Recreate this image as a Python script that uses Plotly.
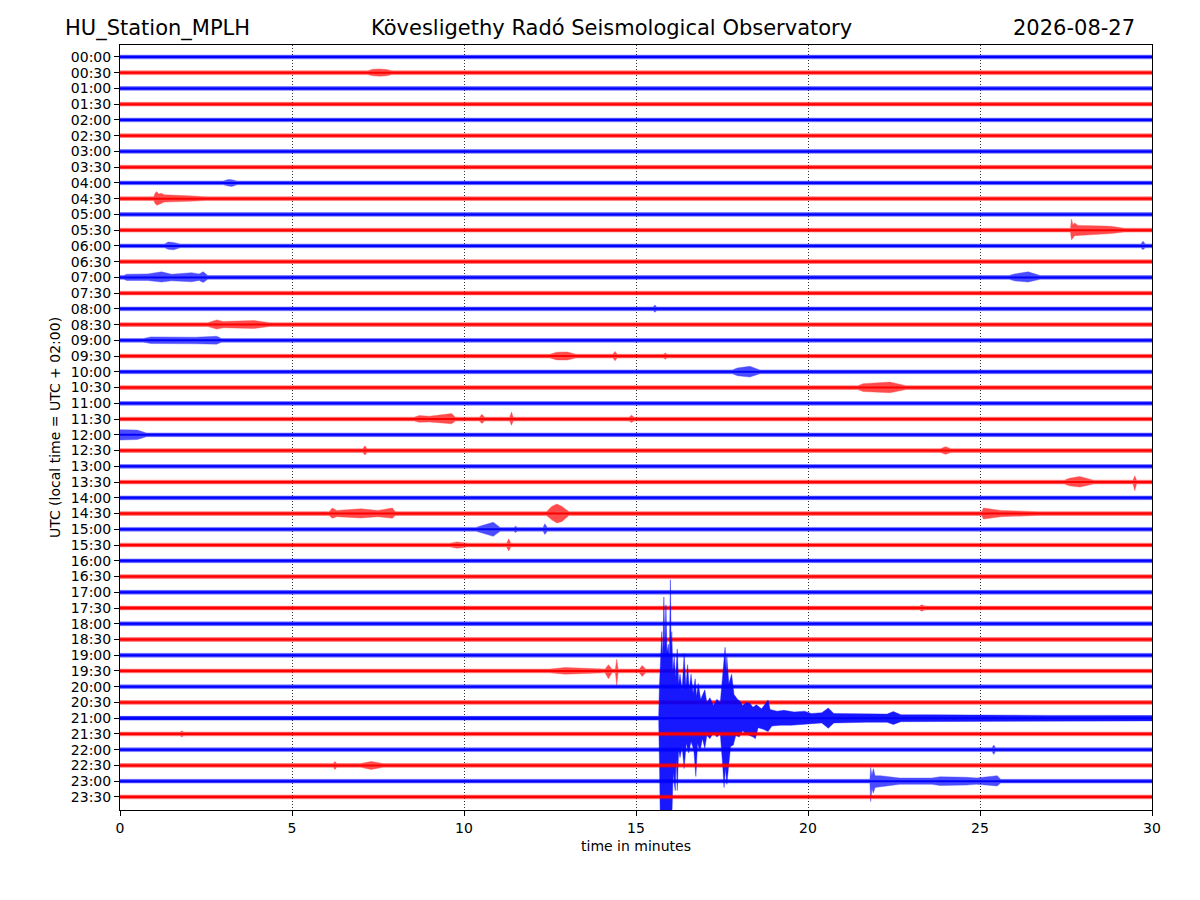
import plotly.graph_objects as go

# Helicorder of one day, 48 half-hour lines of 30 minutes each.
# Each line is drawn as its amplitude envelope (up, down) in units of line spacing,
# read off the reference picture at a few keypoints.

hour_labels = [
    "00:00", "00:30", "01:00", "01:30", "02:00", "02:30", "03:00", "03:30",
    "04:00", "04:30", "05:00", "05:30", "06:00", "06:30", "07:00", "07:30",
    "08:00", "08:30", "09:00", "09:30", "10:00", "10:30", "11:00", "11:30",
    "12:00", "12:30", "13:00", "13:30", "14:00", "14:30", "15:00", "15:30",
    "16:00", "16:30", "17:00", "17:30", "18:00", "18:30", "19:00", "19:30",
    "20:00", "20:30", "21:00", "21:30", "22:00", "22:30", "23:00", "23:30",
]
minute_ticks = [0, 5, 10, 15, 20, 25, 30]
noise = 0.12  # half width of the quiet background trace

# (minute, up, down) envelope keypoints for lines with visible events
r0030 = [(7.2, .12, .12), (7.35, .22, .2), (7.55, .24, .22), (7.75, .2, .2), (7.9, .12, .12)]
r0400 = [(3.0, .12, .12), (3.15, .22, .2), (3.25, .2, .22), (3.4, .12, .12)]
r0430 = [(0.98, .12, .12), (1.02, .35, .3), (1.07, .45, .42), (1.12, .3, .38), (1.2, .35, .3),
         (1.28, .25, .22), (1.6, .2, .2), (2.0, .18, .17), (2.5, .12, .12)]
r0530 = [(27.63, .12, .12), (27.66, .71, .62), (27.7, .35, .5), (27.75, .45, .35), (27.85, .3, .3),
         (28.3, .28, .28), (28.8, .25, .22), (29.2, .12, .12)]
r0600 = [(1.3, .12, .12), (1.4, .25, .22), (1.55, .22, .25), (1.75, .12, .12),
         (29.68, .12, .12), (29.74, .3, .25), (29.8, .12, .12)]
r0700 = [(0.1, .12, .12), (0.2, .2, .2), (0.8, .22, .2), (1.21, .35, .3), (1.5, .2, .22),
         (2.08, .3, .28), (2.3, .22, .2), (2.42, .36, .32), (2.55, .12, .12),
         (25.85, .12, .12), (26.0, .22, .22), (26.4, .35, .3), (26.6, .22, .2), (26.75, .12, .12)]
r0800 = [(15.5, .12, .12), (15.55, .25, .22), (15.6, .12, .12)]
r0830 = [(2.55, .12, .12), (2.81, .3, .28), (3.0, .2, .2), (3.9, .26, .24), (4.35, .12, .12)]
r0900 = [(0.68, .12, .12), (0.9, .22, .2), (1.6, .22, .22), (2.2, .2, .22), (2.81, .26, .24),
         (2.95, .12, .12)]
r0930 = [(12.5, .12, .12), (12.7, .25, .24), (13.0, .26, .25), (13.25, .12, .12),
         (14.33, .12, .12), (14.39, .3, .3), (14.45, .12, .12),
         (15.8, .12, .12), (15.85, .2, .2), (15.9, .12, .12)]
r1000 = [(17.8, .12, .12), (17.95, .25, .25), (18.31, .35, .33), (18.6, .12, .12)]
r1030 = [(21.45, .12, .12), (21.6, .25, .25), (22.0, .28, .27), (22.38, .35, .33), (22.85, .12, .12)]
r1130 = [(8.55, .12, .12), (8.7, .22, .2), (9.0, .18, .18), (9.64, .35, .3), (9.75, .12, .12),
         (10.45, .12, .12), (10.52, .3, .28), (10.6, .12, .12),
         (11.33, .12, .12), (11.38, .45, .4), (11.43, .12, .12),
         (14.8, .12, .12), (14.87, .25, .22), (14.94, .12, .12)]
r1200 = [(0.0, .33, .33), (0.5, .3, .3), (0.77, .12, .12)]
r1230 = [(7.06, .12, .12), (7.12, .3, .28), (7.18, .12, .12),
         (23.85, .12, .12), (24.0, .25, .24), (24.15, .12, .12)]
r1330 = [(27.45, .12, .12), (27.6, .24, .24), (27.9, .35, .32), (28.3, .12, .12),
         (29.45, .12, .12), (29.5, .4, .55), (29.55, .12, .12)]
r1430 = [(6.08, .12, .12), (6.17, .35, .3), (6.3, .2, .2), (7.0, .3, .28), (7.5, .2, .2),
         (7.92, .35, .3), (8.0, .12, .12),
         (12.4, .12, .12), (12.55, .45, .4), (12.7, .6, .6), (12.85, .45, .5), (13.05, .12, .12),
         (25.05, .12, .12), (25.1, .35, .35), (25.3, .3, .28), (25.6, .2, .2), (26.7, .12, .12)]
r1500 = [(10.35, .12, .12), (10.5, .22, .2), (10.85, .45, .45), (11.05, .12, .12),
         (11.45, .12, .12), (11.5, .2, .2), (11.55, .12, .12),
         (12.3, .12, .12), (12.35, .35, .33), (12.42, .12, .12)]
r1530 = [(9.6, .12, .12), (9.8, .2, .2), (10.1, .12, .12), (11.24, .12, .12), (11.3, .4, .38),
         (11.36, .12, .12)]
r1730 = [(23.25, .12, .12), (23.3, .2, .2), (23.4, .12, .12)]
r1930 = [(12.5, .12, .12), (12.94, .22, .2), (13.5, .18, .18), (14.1, .12, .12),
         (14.2, .4, .5), (14.3, .12, .12), (14.4, .12, .12), (14.44, .75, .9), (14.48, .12, .12),
         (15.1, .12, .12), (15.18, .35, .35), (15.28, .12, .12)]
r2130 = [(1.75, .12, .12), (1.8, .2, .2), (1.85, .12, .12)]
r2200 = [(25.35, .12, .12), (25.4, .3, .3), (25.45, .12, .12)]
r2230 = [(6.2, .12, .12), (6.25, .25, .25), (6.3, .12, .12), (7.0, .12, .12), (7.3, .25, .25),
         (7.65, .12, .12)]
r2300 = [(21.8, .12, .12), (21.82, .87, 1.3), (21.86, .4, .5), (21.9, .8, .75), (21.95, .35, .4),
         (22.1, .35, .35), (22.67, .2, .2), (23.6, .2, .2), (23.84, .28, .28), (24.6, .25, .25),
         (24.9, .2, .2), (25.5, .35, .3), (25.6, .12, .12)]

# the big earthquake on the 21:00 line: separate upper and lower envelopes
q2100_up = [(15.66, .12), (15.68, 2.0), (15.71, 3.5), (15.75, 5.5), (15.78, 3.8), (15.81, 7.7),
            (15.84, 4.5), (15.87, 7.2), (15.9, 4.2), (15.94, 4.7), (15.97, 3.8), (16.0, 8.8),
            (16.02, 4.6), (16.04, 5.5), (16.07, 3.0), (16.11, 3.9), (16.15, 2.6), (16.2, 4.4),
            (16.24, 2.2), (16.28, 2.8), (16.34, 1.8), (16.4, 4.1), (16.45, 2.0), (16.5, 3.4),
            (16.55, 1.8), (16.6, 2.8), (16.66, 1.6), (16.72, 2.5), (16.76, 1.4), (16.81, 2.2),
            (16.88, 1.2), (16.95, 1.5), (17.0, 1.8), (17.06, 1.0), (17.15, 1.3), (17.25, 0.8),
            (17.35, 1.2), (17.45, 1.0), (17.52, 2.8), (17.56, 3.7), (17.59, 4.5), (17.62, 3.0),
            (17.64, 3.9), (17.7, 2.2), (17.78, 2.8), (17.85, 1.5), (17.95, 1.2), (18.02, 1.1),
            (18.1, 0.8), (18.2, 1.0), (18.31, 0.95), (18.4, 0.7), (18.5, 0.85), (18.65, 0.6),
            (18.84, 1.15), (18.9, 0.55), (19.1, 0.45), (19.3, 0.5), (19.6, 0.4), (19.9, 0.45),
            (20.1, 0.3), (20.4, 0.35), (20.59, 0.65), (20.75, 0.3), (21.2, 0.3), (21.7, 0.26),
            (22.3, 0.26), (22.48, 0.42), (22.7, 0.22), (23.5, 0.22), (24.5, 0.2), (25.6, 0.22),
            (27.0, 0.18), (28.5, 0.18), (30.0, 0.17)]
q2100_dn = [(15.66, .12), (15.69, 4.0), (15.72, 9.0), (15.75, 6.5), (15.78, 9.5), (15.81, 8.0),
            (15.84, 9.5), (15.88, 7.0), (15.92, 9.0), (15.96, 6.0), (16.0, 9.5), (16.04, 6.5),
            (16.08, 3.5), (16.14, 4.6), (16.17, 2.6), (16.2, 4.6), (16.24, 2.0), (16.28, 2.5),
            (16.34, 1.8), (16.4, 3.2), (16.46, 1.6), (16.53, 2.2), (16.6, 1.5), (16.68, 2.0),
            (16.74, 3.7), (16.79, 1.6), (16.86, 2.1), (16.93, 1.3), (17.0, 1.9), (17.06, 1.1),
            (17.15, 1.3), (17.25, 0.9), (17.35, 1.2), (17.45, 1.0), (17.52, 3.0), (17.56, 4.4),
            (17.6, 3.2), (17.64, 4.2), (17.69, 3.4), (17.75, 1.8), (17.83, 1.7), (17.9, 1.1),
            (18.0, 1.2), (18.1, 0.8), (18.2, 1.0), (18.41, 1.2), (18.47, 1.3), (18.55, 0.6),
            (18.7, 0.7), (18.84, 0.85), (18.95, 0.5), (19.2, 0.45), (19.5, 0.45), (19.8, 0.4),
            (20.1, 0.35), (20.4, 0.3), (20.59, 0.64), (20.75, 0.3), (21.2, 0.3), (21.7, 0.26),
            (22.3, 0.26), (22.48, 0.4), (22.7, 0.22), (23.5, 0.22), (24.5, 0.2), (25.6, 0.22),
            (27.0, 0.18), (28.5, 0.18), (30.0, 0.17)]

events = {
    1: r0030, 8: r0400, 9: r0430, 11: r0530, 12: r0600, 14: r0700, 16: r0800, 17: r0830,
    18: r0900, 19: r0930, 20: r1000, 21: r1030, 23: r1130, 24: r1200, 25: r1230, 27: r1330,
    29: r1430, 30: r1500, 31: r1530, 35: r1730, 39: r1930, 43: r2130, 44: r2200, 45: r2230,
    46: r2300,
}


def pad(pts):
    # background level at both ends of the line
    if pts[0][0] > 0:
        pts = [(0.0, noise)] + pts
    if pts[-1][0] < 30:
        pts = pts + [(30.0, noise)]
    return pts


fig = go.Figure()
for i, label in enumerate(hour_labels):
    color = "blue" if i % 2 == 0 else "red"
    if i == 42:
        up, dn = pad(q2100_up), pad(q2100_dn)
        alpha = 0.9
    else:
        ev = events.get(i, [])
        up = pad([(t, u) for t, u, d in ev]) if ev else [(0.0, noise), (30.0, noise)]
        dn = pad([(t, d) for t, u, d in ev]) if ev else [(0.0, noise), (30.0, noise)]
        alpha = 0.7
    xs = [t for t, v in up] + [t for t, v in reversed(dn)]
    ys = [-i + v for t, v in up] + [-i - v for t, v in reversed(dn)]
    # fuzzy envelope
    fig.add_trace(
        go.Scatter(
            x=xs, y=ys, mode="lines", fill="toself", fillcolor=color, opacity=alpha,
            line=dict(color=color, width=0.4), name=label, hoverinfo="skip",
        )
    )
    # dense core of the trace
    fig.add_trace(
        go.Scatter(
            x=[0, 30], y=[-i, -i], mode="lines", line=dict(color=color, width=2),
            name=label, hoverinfo="skip",
        )
    )

font = dict(family="DejaVu Sans", size=14, color="black")
fig.update_xaxes(
    range=[0, 30], tickvals=minute_ticks, showgrid=True, gridcolor="#333333",
    griddash="1px,2px", gridwidth=0.8, zeroline=False, showline=True, linecolor="black",
    linewidth=1, mirror=True, ticks="outside", ticklen=5, tickcolor="black",
    tickfont=font, title=dict(text="time in minutes", font=font, standoff=6),
)
fig.update_yaxes(
    range=[-47.83, 0.76], tickvals=[-i for i in range(len(hour_labels))],
    ticktext=hour_labels, showgrid=False, zeroline=False, showline=True,
    linecolor="black", linewidth=1, mirror=True, ticks="outside", ticklen=5,
    tickcolor="black", tickfont=font,
    title=dict(text="UTC (local time = UTC + 02:00)", font=font, standoff=6),
)
title_font = dict(family="DejaVu Sans", size=21, color="black")
fig.add_annotation(text="HU_Station_MPLH", x=-0.0552, y=1.022, xref="paper", yref="paper",
                   xanchor="left", yanchor="middle", showarrow=False, font=title_font)
fig.add_annotation(text="Kövesligethy Radó Seismological Observatory", x=0.4758, y=1.022,
                   xref="paper", yref="paper", xanchor="center", yanchor="middle",
                   showarrow=False, font=title_font)
fig.add_annotation(text="2026-08-27", x=0.9855, y=1.022, xref="paper", yref="paper",
                   xanchor="right", yanchor="middle", showarrow=False, font=title_font)
fig.update_layout(
    width=1200, height=900, showlegend=False, plot_bgcolor="white", paper_bgcolor="white",
    margin=dict(l=120, r=48, t=45, b=90), font=font,
)
fig.write_html("out.html", config={"displayModeBar": False},
               post_script="document.body.style.margin='0px';")
